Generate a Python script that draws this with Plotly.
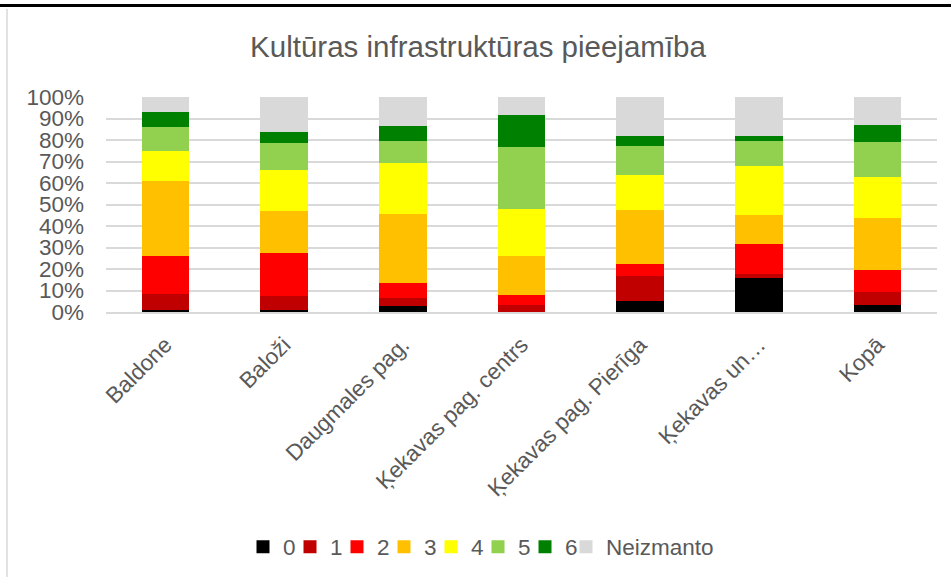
import plotly.graph_objects as go

categories = ["Baldone", "Baloži", "Daugmales pag.", "Ķekavas pag. centrs",
              "Ķekavas pag. Pierīga", "Ķekavas un…", "Kopā"]
series_names = ["0", "1", "2", "3", "4", "5", "6", "Neizmanto"]
s0 = [0.9, 0.8, 3.0, 0.0, 5.3, 15.7, 3.1]
s1 = [7.3, 6.5, 3.4, 3.1, 11.5, 2.2, 6.1]
s2 = [18.0, 20.0, 7.0, 4.8, 5.7, 13.8, 10.5]
s3 = [34.8, 19.9, 32.1, 18.3, 25.0, 13.5, 23.8]
s4 = [14.0, 18.9, 23.9, 21.6, 16.2, 22.8, 19.4]
s5 = [11.2, 12.6, 10.3, 29.1, 13.5, 11.7, 16.3]
s6 = [7.0, 5.0, 6.6, 14.9, 4.5, 2.0, 7.8]
s_neiz = [6.8, 16.3, 13.7, 8.2, 18.3, 18.3, 13.0]
colors = ["#000000", "#C00000", "#FF0000", "#FFC000", "#FFFF00", "#92D050", "#008000", "#D9D9D9"]

all_series = [s0, s1, s2, s3, s4, s5, s6, s_neiz]
font_family = "Liberation Sans, Arial, sans-serif"
text_color = "#595959"
FS = 22.5

fig = go.Figure()
for name, vals, col in zip(series_names, all_series, colors):
    fig.add_trace(go.Bar(x=categories, y=vals, name=name, showlegend=False,
                         marker=dict(color=col, line=dict(width=0))))
# legend entries (square markers); the last one in a second legend box
n = len(series_names)
for i, (name, col) in enumerate(zip(series_names, colors)):
    if i == n - 1:
        # invisible spacer so the compact first legend box does not clip its last label
        fig.add_trace(go.Scatter(x=[None], y=[None], mode="markers", name=" ",
                                 marker=dict(symbol="square", size=13, color="rgba(0,0,0,0)"),
                                 showlegend=True, hoverinfo="skip", legend="legend"))
    fig.add_trace(go.Scatter(x=[None], y=[None], mode="markers", name=name,
                             marker=dict(symbol="square", size=13, color=col),
                             showlegend=True,
                             legend="legend2" if i == n - 1 else "legend"))

W, H = 951, 577
L, R, T, B = 106, 14, 97, 265
pw = W - L - R
ph = H - T - B

def px_x(x):
    return (x - L) / pw

def px_y(y):
    return (H - B - y) / ph

legend_common = dict(orientation="h", xanchor="left", y=px_y(547), yanchor="middle",
                     font=dict(size=FS, color=text_color), itemwidth=30,
                     traceorder="normal", bgcolor="rgba(0,0,0,0)")

fig.update_layout(
    width=W, height=H,
    barmode="stack", bargap=0.6,
    plot_bgcolor="white", paper_bgcolor="white",
    margin=dict(l=L, r=R, t=T, b=B, autoexpand=False),
    font=dict(family=font_family, color=text_color, size=FS),
    title=dict(text="Kultūras infrastruktūras pieejamība", x=px_x(478), xref="paper",
               xanchor="center", y=1 - 47 / H, yanchor="middle",
               font=dict(size=29.5, color=text_color, family=font_family)),
    xaxis=dict(tickangle=-45, showgrid=False, showline=True, linecolor="#D9D9D9",
               linewidth=1.5, ticks="", ticklabelstandoff=9,
               tickfont=dict(size=FS, color=text_color)),
    yaxis=dict(range=[0, 100], dtick=10, ticksuffix="%", showgrid=True,
               gridcolor="#D9D9D9", gridwidth=1.5, zeroline=False, showline=False,
               ticklabelstandoff=21,
               tickfont=dict(size=FS, color=text_color)),
    legend=dict(x=px_x(243), entrywidth=2, entrywidthmode="pixels", **legend_common),
    legend2=dict(x=px_x(566), **legend_common),
    showlegend=True,
)

fig.add_shape(type="line", xref="paper", yref="paper",
              x0=px_x(0), x1=px_x(W), y0=px_y(5.5), y1=px_y(5.5),
              line=dict(color="black", width=3))
fig.add_shape(type="line", xref="paper", yref="paper",
              x0=px_x(7), x1=px_x(7), y0=px_y(9), y1=px_y(H),
              line=dict(color="#D9D9D9", width=1.5))

fig.write_html("out.html", config={"displayModeBar": False},
               post_script="document.body.style.margin='0';")
